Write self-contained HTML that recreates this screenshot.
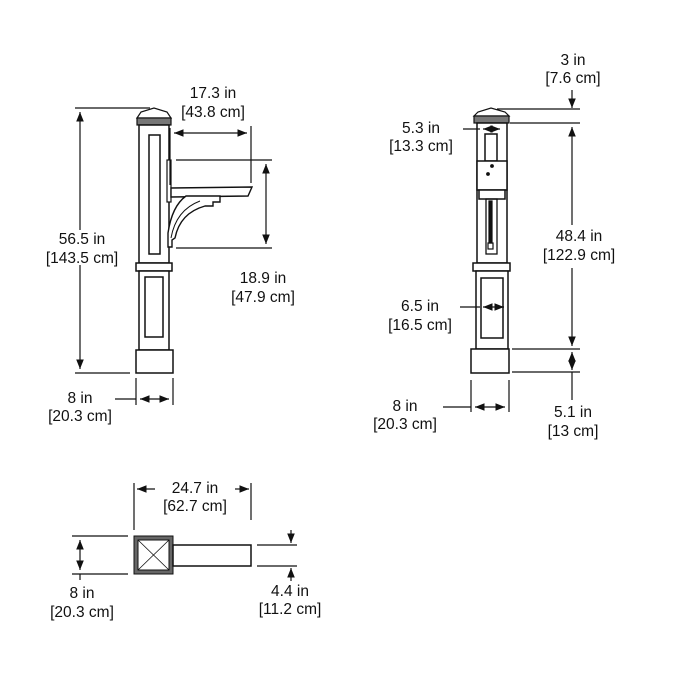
<!DOCTYPE html>
<html><head><style>body{margin:0;background:#fff}svg{display:block}text{font-family:"Liberation Sans",Arial,sans-serif;font-size:15.5px;fill:#111;text-anchor:middle}</style></head>
<body>
<svg width="675" height="675" viewBox="0 0 675 675" xmlns="http://www.w3.org/2000/svg">
<defs>
<marker id="a" viewBox="0 0 10 10" refX="10" refY="5" markerWidth="8" markerHeight="8" orient="auto-start-reverse"><path d="M0,1 L10,5 L0,9 z" fill="#111"/></marker>
</defs>
<g stroke="#111" stroke-width="1.2" fill="none">
<!-- LEFT POST -->
<path d="M137,118 L141,112 L154,108 L167,112 L171,118 Z" fill="#fff"/>
<rect x="137" y="118" width="34" height="7" fill="#777"/>
<rect x="139" y="125" width="30" height="138" fill="#fff" stroke-width="1.5"/>
<rect x="149" y="135" width="11" height="119" stroke-width="1.5"/>
<rect x="136" y="263" width="36" height="8" fill="#fff" stroke-width="1.5"/>
<rect x="139" y="271" width="30" height="79" fill="#fff" stroke-width="1.5"/>
<rect x="145" y="277" width="18" height="60" stroke-width="1.5"/>
<rect x="136" y="350" width="37" height="23" fill="#fff" stroke-width="1.5"/>
<!-- bracket -->
<rect x="167" y="160" width="4" height="42" fill="#fff"/>
<path d="M171,188 L252,187 L248,196 L171,197 Z" fill="#fff" stroke-width="1.4"/>
<path d="M186,196 L220,196 L220,202 L213,202 L213,206 L205,206 Q180,213 175,238 L172,240 L172,247 L168,247 L168,233 Q172,206 186,196 Z" fill="#fff" stroke-width="1.4"/>
<path d="M171,238 Q176,210 200,201" stroke-width="1"/>
<!-- dims left -->
<line x1="75" y1="108" x2="150" y2="108"/>
<line x1="75" y1="373" x2="130" y2="373"/>
<line x1="80" y1="112" x2="80" y2="230" marker-start="url(#a)"/>
<line x1="80" y1="265" x2="80" y2="369" marker-end="url(#a)"/>
<line x1="170" y1="128" x2="170" y2="185"/>
<line x1="251" y1="126" x2="251" y2="183"/>
<line x1="174" y1="133" x2="247" y2="133" marker-start="url(#a)" marker-end="url(#a)"/>
<line x1="176" y1="160" x2="272" y2="160"/>
<line x1="176" y1="248" x2="272" y2="248"/>
<line x1="266" y1="164" x2="266" y2="244" marker-start="url(#a)" marker-end="url(#a)"/>
<line x1="136" y1="378" x2="136" y2="405"/>
<line x1="173" y1="378" x2="173" y2="405"/>
<line x1="115" y1="399" x2="136" y2="399"/>
<line x1="140" y1="399" x2="169" y2="399" marker-start="url(#a)" marker-end="url(#a)"/>
<!-- RIGHT POST -->
<path d="M474,116 L478,112 L491,108 L505,112 L509,116 Z" fill="#fff"/>
<rect x="474" y="116" width="35" height="7" fill="#777"/>
<rect x="477" y="123" width="30" height="140" fill="#fff" stroke-width="1.5"/>
<rect x="485" y="134" width="12" height="27" stroke-width="1.5"/>
<rect x="477" y="161" width="30" height="29" fill="#fff" stroke-width="1.5"/>
<circle cx="492" cy="166" r="1.3" fill="#111"/>
<circle cx="488" cy="174" r="1.3" fill="#111"/>
<rect x="479" y="190" width="26" height="9" fill="#fff" stroke-width="1.5"/>
<rect x="486" y="199" width="11" height="55" stroke-width="1.3"/>
<rect x="489" y="201" width="3" height="42" fill="#111"/>
<rect x="488" y="243" width="5" height="6"/>
<rect x="473" y="263" width="37" height="8" fill="#fff" stroke-width="1.5"/>
<rect x="476" y="271" width="32" height="78" fill="#fff" stroke-width="1.5"/>
<rect x="481" y="278" width="22" height="60" stroke-width="1.5"/>
<rect x="471" y="349" width="38" height="24" fill="#fff" stroke-width="1.5"/>
<!-- dims right -->
<line x1="497" y1="109" x2="580" y2="109"/>
<line x1="572" y1="90" x2="572" y2="108" marker-end="url(#a)"/>
<line x1="510" y1="123" x2="580" y2="123"/>
<line x1="572" y1="127" x2="572" y2="225" marker-start="url(#a)"/>
<line x1="572" y1="268" x2="572" y2="346" marker-end="url(#a)"/>
<line x1="512" y1="349" x2="580" y2="349"/>
<line x1="512" y1="372" x2="580" y2="372"/>
<line x1="572" y1="361" x2="572" y2="352" marker-end="url(#a)"/>
<line x1="572" y1="361" x2="572" y2="370" marker-end="url(#a)"/>
<line x1="572" y1="372" x2="572" y2="400"/>
<line x1="463" y1="129" x2="480" y2="129"/>
<line x1="483" y1="129" x2="500" y2="129" marker-start="url(#a)" marker-end="url(#a)"/>
<line x1="460" y1="307" x2="480" y2="307"/>
<line x1="483" y1="307" x2="504" y2="307" marker-start="url(#a)" marker-end="url(#a)"/>
<line x1="471" y1="380" x2="471" y2="412"/>
<line x1="509" y1="380" x2="509" y2="412"/>
<line x1="443" y1="407" x2="471" y2="407"/>
<line x1="475" y1="407" x2="505" y2="407" marker-start="url(#a)" marker-end="url(#a)"/>
<!-- BOTTOM VIEW -->
<rect x="134" y="536" width="39" height="38" fill="#666" stroke-width="1"/>
<rect x="138" y="540" width="31" height="30" fill="#fff" stroke-width="1"/>
<line x1="138" y1="540" x2="169" y2="570" stroke-width="0.8"/>
<line x1="169" y1="540" x2="138" y2="570" stroke-width="0.8"/>
<rect x="173" y="545" width="78" height="21" fill="#fff" stroke-width="1.5"/>
<line x1="134" y1="483" x2="134" y2="530"/>
<line x1="251" y1="483" x2="251" y2="520"/>
<line x1="155" y1="489" x2="137" y2="489" marker-end="url(#a)"/>
<line x1="235" y1="489" x2="249" y2="489" marker-end="url(#a)"/>
<line x1="72" y1="536" x2="128" y2="536"/>
<line x1="72" y1="574" x2="128" y2="574"/>
<line x1="80" y1="540" x2="80" y2="570" marker-start="url(#a)" marker-end="url(#a)"/>
<line x1="80" y1="574" x2="80" y2="580"/>
<line x1="257" y1="545" x2="297" y2="545"/>
<line x1="257" y1="566" x2="297" y2="566"/>
<line x1="291" y1="530" x2="291" y2="543" marker-end="url(#a)"/>
<line x1="291" y1="581" x2="291" y2="568" marker-end="url(#a)"/>
</g>
<!-- labels -->
<text x="213" y="98">17.3 in</text><text x="213" y="117">[43.8 cm]</text>
<text x="82" y="244">56.5 in</text><text x="82" y="263">[143.5 cm]</text>
<text x="263" y="283">18.9 in</text><text x="263" y="302">[47.9 cm]</text>
<text x="80" y="403">8 in</text><text x="80" y="421">[20.3 cm]</text>
<text x="573" y="65">3 in</text><text x="573" y="83">[7.6 cm]</text>
<text x="421" y="133">5.3 in</text><text x="421" y="151">[13.3 cm]</text>
<text x="579" y="241">48.4 in</text><text x="579" y="260">[122.9 cm]</text>
<text x="420" y="311">6.5 in</text><text x="420" y="330">[16.5 cm]</text>
<text x="405" y="411">8 in</text><text x="405" y="429">[20.3 cm]</text>
<text x="573" y="417">5.1 in</text><text x="573" y="436">[13 cm]</text>
<text x="195" y="493">24.7 in</text><text x="195" y="511">[62.7 cm]</text>
<text x="82" y="598">8 in</text><text x="82" y="617">[20.3 cm]</text>
<text x="290" y="596">4.4 in</text><text x="290" y="614">[11.2 cm]</text>
</svg>
</body></html>
